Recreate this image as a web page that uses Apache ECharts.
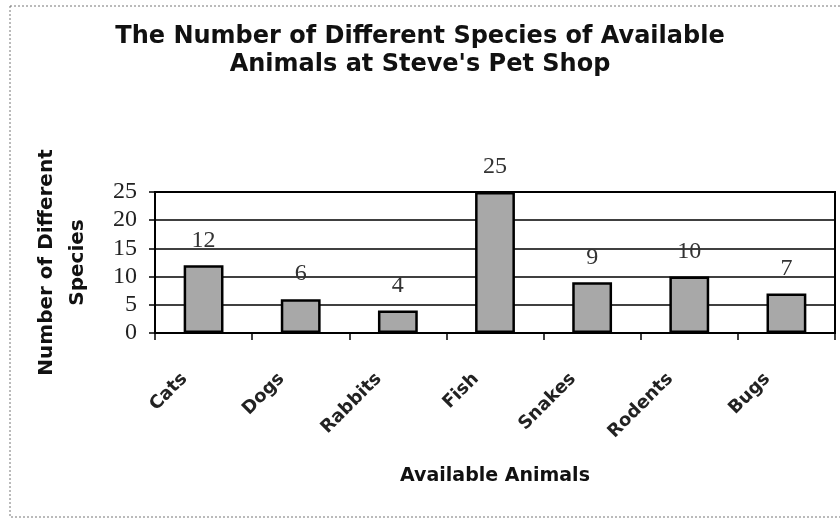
<!DOCTYPE html>
<html>
<head>
<meta charset="utf-8">
<script src="https://cdn.jsdelivr.net/npm/echarts@6/dist/echarts.min.js"></script>
<style>html,body{margin:0;padding:0;background:#fff}#c{width:840px;height:520px}</style>
</head>
<body>
<div id="c"></div>
<script>
var categories = ['Cats', 'Dogs', 'Rabbits', 'Fish', 'Snakes', 'Rodents', 'Bugs'];
var speciesCounts = [12, 6, 4, 25, 9, 10, 7];
var yTicks = [0, 5, 10, 15, 20, 25];

var chart = echarts.init(document.getElementById('c'));
chart.setOption({
  animation: false,
  backgroundColor: '#fff',
  title: {
    text: 'The Number of Different Species of Available\nAnimals at Steve\'s Pet Shop',
    left: 'center',
    top: 23,
    padding: [0, 0, 0, 16],
    textStyle: {
      fontFamily: 'DejaVu Sans',
      fontWeight: 'bold',
      fontSize: 24,
      lineHeight: 28,
      color: '#111'
    }
  },
  graphic: [{
    type: 'rect',
    shape: { x: 10, y: 6, width: 840, height: 511 },
    style: { fill: 'none', stroke: '#777', lineWidth: 1, lineDash: [2, 2] },
    silent: true
  }],
  grid: {
    left: 155, right: 5, top: 192, bottom: 187,
    show: true, borderColor: '#000', borderWidth: 2, backgroundColor: 'transparent'
  },
  xAxis: {
    type: 'category',
    data: categories,
    name: 'Available Animals',
    nameLocation: 'middle',
    nameGap: 134,
    nameTextStyle: { fontFamily: 'DejaVu Sans', fontWeight: 'bold', fontSize: 19, color: '#111' },
    axisLine: { lineStyle: { color: '#000', width: 2 } },
    axisTick: { show: true, interval: 0, length: 7, lineStyle: { color: '#000', width: 1.5 } },
    axisLabel: {
      interval: 0,
      rotate: 45,
      margin: 24,
      padding: [0, 27, 0, 0],
      fontFamily: 'DejaVu Sans',
      fontWeight: 'bold',
      fontSize: 18,
      color: '#222'
    }
  },
  yAxis: {
    type: 'value',
    min: yTicks[0],
    max: yTicks[yTicks.length - 1],
    interval: yTicks[1] - yTicks[0],
    name: 'Number of Different\nSpecies',
    nameLocation: 'middle',
    nameGap: 62,
    nameTextStyle: { fontFamily: 'DejaVu Sans', fontWeight: 'bold', fontSize: 20, lineHeight: 31, color: '#111' },
    axisLine: { show: true, lineStyle: { color: '#000', width: 2 } },
    axisTick: { show: true, length: 6, lineStyle: { color: '#000', width: 1.5 } },
    axisLabel: { margin: 18, fontFamily: 'Liberation Serif', fontSize: 24, color: '#222' },
    splitLine: { show: true, lineStyle: { color: '#000', width: 1.5 } }
  },
  series: [{
    type: 'bar',
    data: speciesCounts,
    barWidth: '41%',
    itemStyle: { color: '#a8a8a8', borderColor: '#000', borderWidth: 2.5 },
    label: {
      show: true,
      position: 'top',
      distance: 13,
      fontFamily: 'Liberation Serif',
      fontSize: 24,
      color: '#333'
    }
  }]
});
</script>
</body>
</html>
